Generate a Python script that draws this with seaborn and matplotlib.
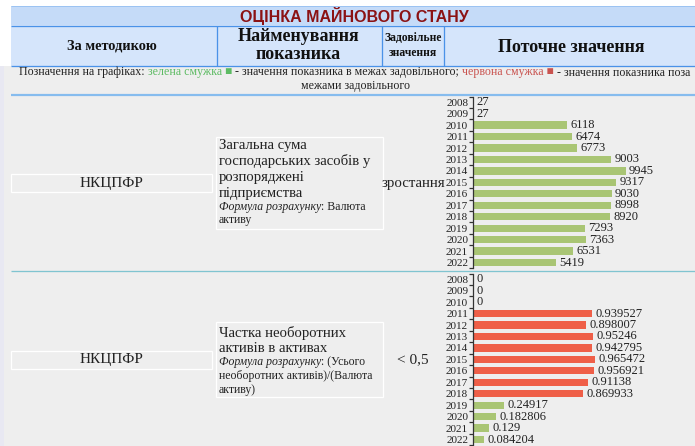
import matplotlib
matplotlib.use('Agg')
import matplotlib.pyplot as plt
from matplotlib.patches import Rectangle
from matplotlib.lines import Line2D
import seaborn as sns
import pandas as pd
import numpy as np

# ---------------- data ----------------
years = [str(y) for y in range(2008, 2023)]
total_assets = [27, 27, 6118, 6474, 6773, 9003, 9945, 9317, 9030, 8998, 8920, 7293, 7363, 6531, 5419]
noncurrent_share = [0, 0, 0, 0.939527, 0.898007, 0.95246, 0.942795, 0.965472, 0.956921,
                    0.91138, 0.869933, 0.24917, 0.182806, 0.129, 0.084204]
share_limit = 0.5

title = "ОЦІНКА МАЙНОВОГО СТАНУ"
col_headers = ["За методикою", "Найменування\nпоказника", "Задовільне\nзначення", "Поточне значення"]
method = "НКЦПФР"
ind1_name = ["Загальна сума", "господарських засобів у", "розпоряджені", "підприємства"]
ind1_formula = ["Валюта", "активу"]
ind1_norm = "зростання"
ind2_name = ["Частка необоротних", "активів в активах"]
ind2_formula = ["(Усього", "необоротних активів)/(Валюта", "активу)"]
ind2_norm = "< 0,5"

GREEN = '#a9c574'
RED = '#ef5f48'

# ---------------- figure ----------------
W, H = 695, 446
sns.set_theme(style='white')
plt.rcParams['font.family'] = ['Liberation Serif', 'DejaVu Sans']

fig = plt.figure(figsize=(W / 100, H / 100), dpi=100)
fig.patch.set_facecolor('white')
renderer = fig.canvas.get_renderer()


def fx(x):
    return x / W


def fy(y):
    return 1 - y / H


def rect(x0, y0, x1, y1, fc='none', ec='none', lw=0.0, z=-5):
    fig.patches.append(Rectangle((fx(x0), fy(y1)), (x1 - x0) / W, (y1 - y0) / H,
                                 transform=fig.transFigure, facecolor=fc, edgecolor=ec,
                                 linewidth=lw, zorder=z))


def line(x0, y0, x1, y1, color, lw):
    fig.add_artist(Line2D([fx(x0), fx(x1)], [fy(y0), fy(y1)], transform=fig.transFigure,
                          color=color, lw=lw * 0.72, solid_capstyle='butt', zorder=-1))


def txt(x, y, s, **kw):
    kw.setdefault('ha', 'center')
    kw.setdefault('va', 'center')
    return fig.text(fx(x), fy(y), s, **kw)


def width_of(s, **kw):
    t = fig.text(0, 0, s + 'H', **kw)
    t2 = fig.text(0, 0, 'H', **kw)
    w = t.get_window_extent(renderer).width - t2.get_window_extent(renderer).width
    t.remove()
    t2.remove()
    return w


def segments(x, y, parts, align='left'):
    widths = [width_of(s, **kw) for s, kw in parts]
    total = sum(widths)
    if align == 'center':
        x = x - total / 2
    for (s, kw), w in zip(parts, widths):
        fig.text(fx(x), fy(y), s, ha='left', va='center', **kw)
        x += w


# backgrounds
rect(0, 66, 4, H, fc='#e8e8f2')
rect(4, 66, W, H, fc='#eeeeee')
rect(11, 6, W, 25.5, fc='#c5dbf8')
rect(11, 25.5, W, 65.5, fc='#d5e5fb')
line(11, 6, W, 6, '#9cc3f2', 1)
line(11, 25.5, W, 25.5, '#4a92e8', 1.3)
line(11, 65.5, W, 65.5, '#4a92e8', 1.3)
for xv in (216.5, 381.5, 444.5):
    line(xv, 25.5, xv, 65.5, '#4a92e8', 1.3)
line(11, 94.5, W, 94.5, '#86bcee', 2.2)
line(11, 271, W, 271, '#80c4d0', 1.3)

# title & headers
txt(354, 16, title, family='Liberation Sans', weight='bold', fontsize=11.5, color='#8b1214')
txt(112, 46, col_headers[0], weight='bold', fontsize=10.4, color='#111')
txt(298, 45.5, col_headers[1], weight='bold', fontsize=13, color='#111', linespacing=1.1)
txt(413, 45.5, col_headers[2], weight='bold', fontsize=8.4, color='#111', linespacing=1.25)
txt(571, 47, col_headers[3], weight='bold', fontsize=13, color='#111')

# legend line
lf = dict(fontsize=8.6, color='#222', family=['Liberation Serif', 'DejaVu Sans'])
gf = dict(lf, color='#5dbb63')
rf = dict(lf, color='#c9534f')
segments(354.5, 72.5, [("Позначення на графіках: ", lf), ("зелена смужка ■", gf),
                       (" - значення показника в межах задовільного; ", lf),
                       ("червона смужка ■", rf), (" - значення показника поза", lf)], align='center')
txt(355, 86, "межами задовільного", **lf)

# left columns, row 1 and row 2
for (yc, box) in ((183, (174, 192)), (360, (351, 369))):
    rect(11, box[0], 212, box[1], ec='white', lw=0.9)
    txt(111, yc, method, fontsize=11, color='#222')

rect(216, 137, 383, 229, ec='white', lw=0.9)
for i, s in enumerate(ind1_name):
    txt(219, 145.5 + i * 16, s, ha='left', fontsize=10.6, color='#222')
segments(219, 207, [("Формула розрахунку", dict(fontsize=8.45, style='italic', color='#222')),
                    (": " + ind1_formula[0], dict(fontsize=8.45, color='#222'))])
txt(219, 219.5, ind1_formula[1], ha='left', fontsize=8.45, color='#222')
txt(413.5, 183.5, ind1_norm, fontsize=10.7, color='#222')

rect(216, 322, 383, 397, ec='white', lw=0.9)
for i, s in enumerate(ind2_name):
    txt(219, 333.5 + i * 14.5, s, ha='left', fontsize=10.6, color='#222')
segments(219, 362, [("Формула розрахунку", dict(fontsize=8.45, style='italic', color='#222')),
                    (": " + ind2_formula[0], dict(fontsize=8.45, color='#222'))])
for i, s in enumerate(ind2_formula[1:]):
    txt(219, 376 + i * 13.5, s, ha='left', fontsize=8.45, color='#222')
txt(413, 359.5, ind2_norm, fontsize=11, color='#222')


# ---------------- bar charts ----------------
def bar_chart(top, values, xmax, colors):
    n = len(years)
    band = 11.45
    ax = fig.add_axes([fx(473), fy(top + band * n), 200 / W, band * n / H])
    ax.set_facecolor('none')
    df = pd.DataFrame({'year': years, 'value': values})
    sns.barplot(data=df, x='value', y='year', hue='year', palette=colors, legend=False,
                orient='h', width=0.64, ax=ax, saturation=1, edgecolor='none')
    ax.set_xlim(0, xmax)
    ax.set_ylim(n - 0.5, -0.5)
    for sp in ('top', 'right', 'bottom'):
        ax.spines[sp].set_visible(False)
    ax.spines['left'].set_color('#333')
    ax.spines['left'].set_linewidth(0.9)
    ax.xaxis.set_visible(False)
    ax.set_ylabel('')
    ax.set_yticks(np.arange(-0.5, n, 1), minor=True)
    ax.tick_params(axis='y', which='major', length=0, pad=3.5, labelsize=8, labelcolor='#222')
    ax.tick_params(axis='y', which='minor', left=True, length=3, width=0.9, color='#333')
    for c, v in zip(ax.containers, values):
        ax.bar_label(c, labels=[f"{v:g}"], padding=2.5, fontsize=9, color='#222')
    return ax


colors1 = {y: GREEN for y in years}
colors2 = {y: (RED if v > share_limit else GREEN) for y, v in zip(years, noncurrent_share)}
bar_chart(96.5, total_assets, 13030, colors1)
bar_chart(273.5, noncurrent_share, 1.585, colors2)

fig.savefig('out.png', dpi=100, facecolor=fig.get_facecolor())
